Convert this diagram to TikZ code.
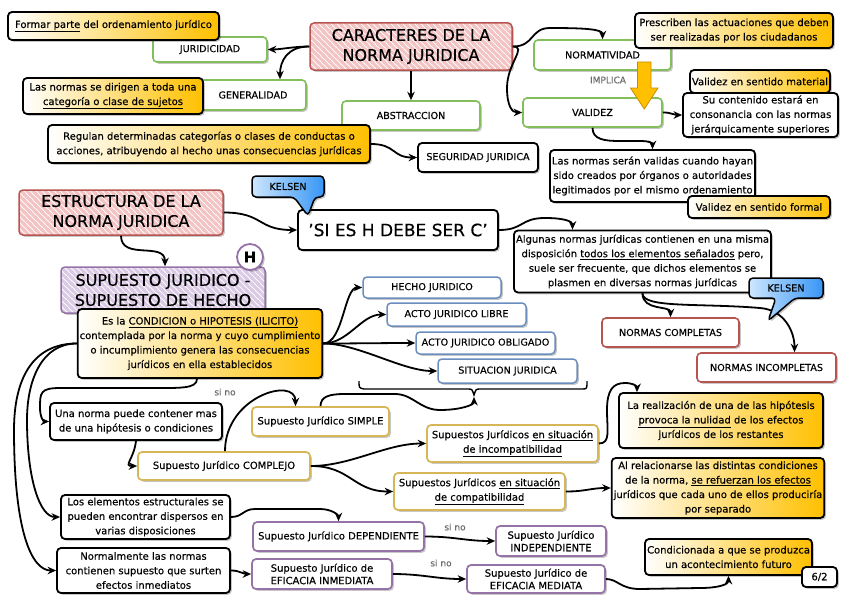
\documentclass[tikz,border=0pt]{standalone}
\usepackage{fontspec}
\setmainfont{DejaVu Sans}[FakeBold=0.35]
\usetikzlibrary{arrows.meta,shadows,patterns,calc}

\definecolor{greenb}{RGB}{130,190,90}
\definecolor{goldb}{RGB}{214,182,86}
\definecolor{purpb}{RGB}{150,115,166}
\definecolor{blueb}{RGB}{108,142,191}
\definecolor{redb}{RGB}{184,84,80}
\definecolor{yel}{RGB}{255,192,0}
\definecolor{yeldark}{RGB}{200,140,0}
\definecolor{redstripe}{RGB}{244,195,195}
\definecolor{purpstripe}{RGB}{218,202,230}
\definecolor{kblueL}{RGB}{205,230,255}
\definecolor{kblueR}{RGB}{55,150,245}
\definecolor{implgray}{RGB}{110,110,110}

\pgfdeclarepatternformonly{hatchA}{\pgfqpoint{-1pt}{-1pt}}{\pgfqpoint{7pt}{7pt}}{\pgfqpoint{6pt}{6pt}}{%
 \pgfsetlinewidth{3pt}%
 \pgfpathmoveto{\pgfqpoint{-1pt}{7pt}}\pgfpathlineto{\pgfqpoint{7pt}{-1pt}}%
 \pgfpathmoveto{\pgfqpoint{-1pt}{1pt}}\pgfpathlineto{\pgfqpoint{1pt}{-1pt}}%
 \pgfpathmoveto{\pgfqpoint{5pt}{7pt}}\pgfpathlineto{\pgfqpoint{7pt}{5pt}}%
 \pgfusepath{stroke}}

\tikzset{
 sh/.style={drop shadow={shadow xshift=1.8pt,shadow yshift=-1.8pt,opacity=0.22,fill=black}},
 base/.style={rounded corners=4pt, align=center, inner sep=2pt, sh},
 txt/.style={font=\fontsize{10}{14.5}\selectfont},
 txttight/.style={font=\fontsize{10}{12.5}\selectfont},
 capt/.style={font=\fontsize{9.6}{11}\selectfont},
 bigt/.style={font=\fontsize{16}{20}\selectfont},
 gbox/.style={base, capt, draw=greenb, line width=1.6pt, fill=white},
 bbox/.style={base, txt, draw=black, line width=1.8pt, fill=white},
 ybox/.style={base, txt, draw=black, line width=1.8pt, left color=white, right color=yel},
 blbox/.style={base, capt, draw=blueb, line width=1.5pt, fill=white},
 rbox/.style={base, capt, draw=redb, line width=1.6pt, fill=white},
 gdbox/.style={base, txt, draw=goldb, line width=1.7pt, fill=white},
 pbox/.style={base, txt, draw=purpb, line width=1.7pt, fill=white},
 hred/.style={base, bigt, draw=redb, line width=1.5pt, preaction={fill=white}, pattern=hatchA, pattern color=redstripe},
 hpurp/.style={base, bigt, draw=purpb, line width=1.5pt, preaction={fill=white}, pattern=hatchA, pattern color=purpstripe},
 callout/.style={draw=black, line width=1.5pt, rounded corners=4pt, left color=kblueL, right color=kblueR, sh},
 arr/.style={line width=1.8pt, -{Stealth[length=8.5pt,width=7.5pt]}},
 lbl/.style={font=\fontsize{9}{10}\selectfont, text=implgray},
}

\begin{document}
\begin{tikzpicture}[x=1pt,y=-1pt]
\useasboundingbox (0,0) rectangle (848,602);
\fill[white] (0,0) rectangle (848,602);

% ---------- top: caracteres ----------
\node[gbox, minimum width=114, minimum height=25] (jurid) at (210,49.5) {JURIDICIDAD};
\node[gbox, minimum width=106, minimum height=30] (general) at (253,95) {GENERALIDAD};
\node[gbox, minimum width=138, minimum height=29] (abstr) at (411,115.5) {ABSTRACCION};
\node[gbox, minimum width=137, minimum height=30] (normat) at (602.5,55) {NORMATIVIDAD};
\node[gbox, minimum width=139, minimum height=29] (validez) at (592.5,112.5) {VALIDEZ};

\node[ybox, minimum width=211, minimum height=28] (formar) at (113.5,26) {\underline{Formar parte} del ordenamiento jurídico};
\node[ybox, minimum width=180, minimum height=36] (lasnormas) at (113,96) {Las normas se dirigen a toda una\\\underline{categoría o clase de sujetos}};
\node[hred, minimum width=202, minimum height=47] (caract) at (411,46.5) {CARACTERES DE LA\\NORMA JURIDICA};
\node[ybox, minimum width=322, minimum height=38] (regulan) at (209,144) {Regulan determinadas categorías o clases de conductas o\\acciones, atribuyendo al hecho unas consecuencias jurídicas};
\node[bbox, capt, minimum width=120, minimum height=29] (segur) at (478,157.5) {SEGURIDAD JURIDICA};
\node[ybox, minimum width=198, minimum height=35] (prescr) at (734,30.5) {Prescriben las actuaciones que deben\\ser realizadas por los ciudadanos};
\node[ybox, minimum width=140, minimum height=23] (vmat) at (760,81.5) {Validez en sentido material};
\node[bbox, minimum width=155, minimum height=44] (sucont) at (760.5,115) {Su contenido estará en\\consonancia con las normas\\jerárquicamente superiores};
\node[bbox, minimum width=199, minimum height=52] (lasnormasseran) at (652.5,176) {Las normas serán validas cuando hayan\\sido creados por órganos o autoridades\\legitimados por el mismo ordenamiento};
\node[ybox, minimum width=142, minimum height=22] (vformal) at (759,207) {Validez en sentido formal};
\node[lbl] (implica) at (608,80) {IMPLICA};

\draw[arr] (caract.west) .. controls +(-15,0) and +(12,0) .. (jurid.east);
\draw[arr] (caract.west) .. controls +(-22,0) and +(0,-18) .. ([xshift=27]general.north);
\draw[arr] (caract.south) -- (abstr.north);
\draw[arr] (caract.east) .. controls +(22,0) and +(-20,0) .. (550,28) .. controls +(35,0) and +(0,-10) .. (normat.north);
\draw[arr] (caract.east) .. controls +(15,0) and +(0,-25) .. (507,88) .. controls +(0,18) and +(-10,0) .. (validez.west);
\draw[arr] (regulan.east) .. controls +(25,0) and +(-25,0) .. (segur.west);
\draw[arr] (validez.east) .. controls +(10,0) and +(-10,0) .. (sucont.west);
\draw[arr] (validez.south) .. controls +(0,12) and +(-15,0) .. (620,141) -- (640,141) .. controls +(10,0) and +(0,-6) .. (lasnormasseran.north);
\draw[fill=yel, draw=yeldark, line width=0.8pt] (637.5,62) -- (651,62) -- (651,88) -- (658,88) -- (644.3,109) -- (630.5,88) -- (637.5,88) -- cycle;

% ---------- estructura ----------
\node[hred, minimum width=204, minimum height=45] (estruc) at (121,212.5) {ESTRUCTURA DE LA\\NORMA JURIDICA};
\node[bbox, font=\fontsize{17}{20}\selectfont, minimum width=200, minimum height=40] (sies) at (398,230) {'SI ES H DEBE SER C'};
\path[callout] (252,176) -- (324,176) -- (324,197) -- (315,197) -- (308,216) -- (294,197) -- (252,197) -- cycle;
\node[capt] (kelsenA) at (288,186.5) {KELSEN};
\node[bbox, minimum width=250, minimum height=62] (algunas) at (642.5,261.5) {Algunas normas jurídicas contienen en una misma\\disposición \underline{todos los elementos señalados} pero,\\suele ser frecuente, que dichos elementos se\\plasmen en diversas normas jurídicas};
\node[rbox, minimum width=137, minimum height=29] (ncompl) at (670.5,332.5) {NORMAS COMPLETAS};
\node[rbox, minimum width=139, minimum height=29] (nincompl) at (766.5,367.5) {NORMAS INCOMPLETAS};

\draw[arr] (estruc.east) .. controls +(40,0) and +(-40,0) .. (sies.west);
\draw[arr] (sies.east) .. controls +(25,0) and +(-25,0) .. (545,218) .. controls +(20,0) and +(0,-8) .. ([xshift=-70]algunas.north);
\draw[arr] (algunas.south) .. controls +(0,18) and +(0,-12) .. (ncompl.north);
\draw[arr] (algunas.south) .. controls +(0,15) and +(-60,-5) .. (760,308) .. controls +(25,2) and +(0,-20) .. ([xshift=28]nincompl.north);
\path[callout] (749,278) -- (823,278) -- (823,298) -- (795,298) -- (768,321) -- (776,298) -- (749,298) -- cycle;
\node[capt] (kelsenB) at (786,288) {KELSEN};

% ---------- supuesto ----------
\node[hpurp, minimum width=204, minimum height=46] (supuesto) at (163,290) {SUPUESTO JURIDICO -\\SUPUESTO DE HECHO};
\draw[arr] (estruc.south) .. controls +(0,25) and +(0,-25) .. ([xshift=2]supuesto.north);
\node[circle, draw=purpb, line width=1.8pt, fill=white, minimum size=26, inner sep=0pt, font=\fontsize{15}{15}\selectfont\bfseries, sh] (hcirc) at (250,257) {H};
\node[ybox, minimum width=240, minimum height=69] (esla) at (200,343.5) {Es la \underline{CONDICION o HIPOTESIS (ILICITO)}\\contemplada por la norma y cuyo cumplimiento\\o incumplimiento genera las consecuencias\\jurídicos en ella establecidos};

\node[blbox, minimum width=138, minimum height=21] (hecho) at (432,287.5) {HECHO JURIDICO};
\node[blbox, minimum width=139, minimum height=23] (actolibre) at (456.5,314.5) {ACTO JURIDICO LIBRE};
\node[blbox, minimum width=139, minimum height=22] (actoobl) at (485.5,343) {ACTO JURIDICO OBLIGADO};
\node[blbox, minimum width=139, minimum height=24] (situac) at (507.5,371) {SITUACION JURIDICA};

\draw[arr] (esla.east) .. controls +(20,0) and +(-18,0) .. (hecho.west);
\draw[arr] (esla.east) .. controls +(25,0) and +(-25,0) .. (actolibre.west);
\draw[arr] (esla.east) .. controls +(30,0) and +(-30,0) .. (actoobl.west);
\draw[arr] (esla.east) .. controls +(35,0) and +(-35,0) .. (situac.west);

\draw[line width=1.4pt] (359,381) .. controls (359,388) .. (364,389) -- (468,389) .. controls (472,389) .. (474,395) .. controls (476,389) .. (480,389) -- (582,389) .. controls (587,389) .. (587,381);
\coordinate (bracetip) at (474,397);

% ---------- lower part ----------
\node[bbox, minimum width=172, minimum height=37] (unanorma) at (136,421.5) {Una norma puede contener mas\\de una hipótesis o condiciones};
\node[gdbox, minimum width=137, minimum height=29] (simple) at (320.5,421.5) {Supuesto Jurídico SIMPLE};
\node[gdbox, minimum width=172, minimum height=28] (complejo) at (224,466) {Supuesto Jurídico COMPLEJO};
\node[gdbox, minimum width=171, minimum height=37] (incompat) at (512.5,443.5) {Supuestos Jurídicos \underline{en situación}\\\underline{de incompatibilidad}};
\node[gdbox, minimum width=171, minimum height=37] (compat) at (479.5,491.5) {Supuestos Jurídicos \underline{en situación}\\\underline{de compatibilidad}};
\node[ybox, minimum width=204, minimum height=55] (larealiz) at (721,420.5) {La realización de una de las hipótesis\\\underline{provoca la nulidad} de los efectos\\jurídicos de los restantes};
\node[ybox, minimum width=210, minimum height=60] (alrelac) at (718,488) {Al relacionarse las distintas condiciones\\de la norma, \underline{se refuerzan los efectos}\\jurídicos que cada uno de ellos produciría\\por separado};
\node[bbox, minimum width=169, minimum height=44] (loselem) at (145.5,517) {Los elementos estructurales se\\pueden encontrar dispersos en\\varias disposiciones};
\node[pbox, minimum width=171, minimum height=29] (depend) at (338.5,536.5) {Supuesto Jurídico DEPENDIENTE};
\node[pbox, txttight, minimum width=110, minimum height=30] (independ) at (551,541) {Supuesto Jurídico\\INDEPENDIENTE};
\node[bbox, minimum width=173, minimum height=45] (normalm) at (143.5,570.5) {Normalmente las normas\\contienen supuesto que surten\\efectos inmediatos};
\node[pbox, txttight, minimum width=140, minimum height=30] (inmed) at (322,574) {Supuesto Jurídico de\\EFICACIA INMEDIATA};
\node[pbox, txttight, minimum width=138, minimum height=28] (mediat) at (536,579) {Supuesto Jurídico de\\EFICACIA MEDIATA};
\node[ybox, minimum width=167, minimum height=36] (condic) at (728.5,557) {Condicionada a que se produzca\\un acontecimiento futuro};
\node[bbox, minimum width=35, minimum height=20] (sixtwo) at (819.5,577) {6/2};

\node[lbl] (sinoA) at (225,392) {si no};
\node[lbl] (sinoB) at (455,527) {si no};
\node[lbl] (sinoC) at (441,563) {si no};

\draw[arr] ([xshift=-3]esla.south) .. controls +(0,10) and +(30,0) .. (150,388) -- (60,388) .. controls +(-20,0) and +(0,-15) .. (40,408) .. controls +(0,10) and +(-5,0) .. (unanorma.west);
\draw[arr] (esla.west) .. controls +(-35,0) and +(0,-40) .. (27,420) .. controls +(0,60) and +(-20,0) .. (loselem.west);
\draw[arr] (esla.west) .. controls +(-45,0) and +(0,-50) .. (14,430) .. controls +(0,100) and +(-25,0) .. (normalm.west);
\draw[arr] (unanorma.south) .. controls +(-2,18) and +(-14,0) .. (complejo.west);
\draw[arr] ([xshift=1]complejo.north) .. controls +(0,-55) and +(0,-30) .. ([xshift=-25]simple.north);
\draw[arr] (simple.north) .. controls +(0,-10) and +(-15,0) .. (345,394) -- (395,394) .. controls +(18,0) and +(-20,0) .. (440,410) .. controls +(20,0) and +(0,8) .. (bracetip);
\draw[arr] (complejo.east) .. controls +(40,0) and +(-40,0) .. (incompat.west);
\draw[arr] (complejo.east) .. controls +(40,0) and +(-40,0) .. (compat.west);
\draw[arr] (incompat.east) .. controls +(12,0) and +(0,20) .. (607,410) .. controls +(0,-20) and +(-12,0) .. (625,383) .. controls +(8,0) and +(0,-6) .. ([xshift=-84]larealiz.north);
\draw[arr] (compat.east) .. controls +(20,0) and +(-20,0) .. (alrelac.west);
\draw[arr] (loselem.east) .. controls +(12,0) and +(-12,0) .. (255,509) -- (320,509) .. controls +(12,0) and +(0,-6) .. (depend.north);
\draw[arr] (depend.east) .. controls +(30,0) and +(-30,0) .. (independ.west);
\draw[arr] (normalm.east) .. controls +(10,0) and +(-10,0) .. (inmed.west);
\draw[arr] (inmed.east) .. controls +(30,0) and +(-30,0) .. (mediat.west);
\draw[arr] (mediat.east) .. controls +(12,0) and +(-20,0) .. (640,589) -- (700,588) .. controls +(20,0) and +(0,8) .. (condic.south);
\end{tikzpicture}
\end{document}
